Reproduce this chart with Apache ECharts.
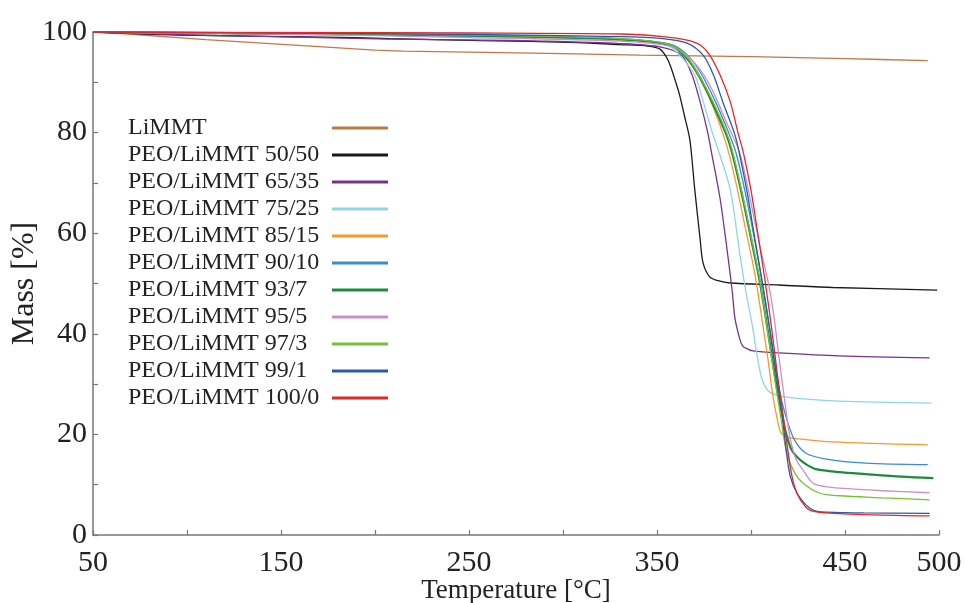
<!DOCTYPE html>
<html>
<head>
<meta charset="utf-8">
<script src="https://cdn.jsdelivr.net/npm/echarts@6/dist/echarts.min.js"></script>
<style>
html,body{margin:0;padding:0;background:#fff;}
#c{width:965px;height:603px;}
</style>
</head>
<body>
<div id="c"></div>
<script>
// Tick positions / labels
const xTickLabels = [50, 150, 250, 350, 450, 500];
const yTickLabels = [0, 20, 40, 60, 80, 100];

// Series names
const seriesNames = ['LiMMT', 'PEO/LiMMT 50/50', 'PEO/LiMMT 65/35', 'PEO/LiMMT 75/25',
  'PEO/LiMMT 85/15', 'PEO/LiMMT 90/10', 'PEO/LiMMT 93/7', 'PEO/LiMMT 95/5',
  'PEO/LiMMT 97/3', 'PEO/LiMMT 99/1', 'PEO/LiMMT 100/0'];

// Data: [temperature °C, mass %]
const limmt = [[50,100],[80,99.3],[110,98.5],[140,97.8],[170,97.1],[200,96.4],[215,96.2],[250,96.0],[300,95.7],[341,95.4],[400,95.1],[450,94.7],[494,94.3]];
const peo5050 = [[50,100],[95,99.4],[172,99.0],[208,98.7],[256,98.3],[308,97.9],[330,97.5],[345,97.2],[351.6,96.6],[355,95],[357,93.4],[360,90],[362,87.5],[364.5,83.5],[367.5,78.5],[370,69],[373,58.6],[374.5,54.1],[378,51.3],[382,50.6],[389,50.1],[415,49.7],[443.6,49.2],[499,48.7]];
const peo6535 = [[50,100],[116,99.3],[145,99.1],[208,98.6],[257,98.4],[289,98.2],[330,97.7],[352,97.0],[363,95.4],[368.6,91.5],[373,86],[377,80],[379,76],[383.5,67],[387,57.5],[390,48.5],[391.5,43],[394,39],[395.5,37.6],[398,37],[401,36.6],[415,36.2],[447,35.6],[495,35.2]];
const peo7525 = [[50,100],[150,99.5],[250,99.2],[330,98.6],[355,97.4],[362,95.4],[370,91.5],[374,86.9],[379,80.5],[383.5,75.5],[389,68.6],[394,56],[397,49],[399.5,44],[401,41],[403,36.2],[406,30.8],[410,28.4],[419,27.4],[447,26.6],[496,26.2]];
const peo8515 = [[50,100],[150,99.6],[250,99.1],[330,98.4],[357,97.3],[366,94.5],[373,90.5],[380,85],[387,77.5],[392,70],[397,61],[402,52],[406.4,41.5],[409,35],[411.7,27.5],[414,23],[416,20.3],[420,19.4],[425.5,19.1],[443,18.5],[494,17.9]];
const peo9010 = [[50,100],[150,99.6],[250,99.2],[330,98.5],[357,97.6],[366,95.5],[373,92],[380,87],[387,81],[392,76],[397,68],[402,58.5],[406,50],[410,41],[415,29],[418.6,23.5],[423,19],[429,16.3],[440,15.1],[461,14.3],[494,14.0]];
const peo937 = [[50,100],[150,99.7],[250,99.3],[330,98.6],[357,97.4],[366,94.8],[373,90.9],[380,85.5],[387,79.5],[390,75.9],[395,68],[400,59],[404.8,50.1],[409,40.5],[413,31],[416,25],[418.6,20.3],[421.5,17],[425.6,15.1],[430,13.9],[434.6,13.1],[447,12.5],[461,12.1],[480,11.6],[497,11.3]];
const peo955 = [[50,100],[150,99.6],[250,98.9],[330,98.2],[357,97.2],[366,95.3],[373,92.5],[380,88],[387,82],[394,76],[400,66],[405,57],[409,50.5],[412,44],[415,35],[418,26.5],[420.7,19.5],[424,15],[427.7,12.9],[433,10.3],[440,9.6],[447,9.3],[470,8.8],[495,8.4]];
const peo973 = [[50,100],[150,99.8],[250,99.4],[330,98.7],[357,97.5],[366,95],[373,91],[380,86],[387,80],[390,76.5],[395,68.5],[400,59.5],[404.8,50.5],[409,40],[413,30],[416,23],[419,16.3],[423,12.5],[427.7,10.3],[436.7,8.3],[447,7.8],[470,7.4],[495,7.0]];
const peo991 = [[50,100],[150,99.8],[250,99.5],[330,99.1],[353,98.7],[366,97.8],[374.5,95.4],[380,91.5],[385,86.1],[391.5,79.5],[394,75.5],[398,68],[402,59],[406,50.3],[409.5,42],[413,33],[416.5,24],[419,16],[421,11.5],[424.5,8.3],[431,5.4],[437,4.6],[460,4.4],[495,4.3]];
const peo1000 = [[50,100],[150,99.9],[250,99.8],[330,99.6],[353,99.1],[366,98.4],[373,97.4],[378,95.4],[383.5,91.5],[389,86.1],[393,80.1],[396,75.9],[400,68.5],[404,59],[407.5,50.5],[411,41],[414,32],[417,24],[420.7,14],[423,9.8],[426,7.2],[431,5.0],[440,4.4],[465,4.0],[495,3.8]];

const seriesData = [limmt, peo5050, peo6535, peo7525, peo8515, peo9010, peo937, peo955, peo973, peo991, peo1000];
const colors = ['#c0784a', '#1a1a1a', '#74358c', '#8fd4e8', '#f29a2e', '#3a8ad4', '#1e8a3e', '#c692c6', '#78c03a', '#2a5aaa', '#e02828'];
const widths = [1.3, 1.3, 1.3, 1.3, 1.3, 1.3, 2.2, 1.3, 1.3, 1.3, 1.3];

const FONT = '"Liberation Serif", "Times New Roman", serif';

const chart = echarts.init(document.getElementById('c'), null, {renderer: 'canvas'});
chart.setOption({
  animation: false,
  backgroundColor: '#ffffff',
  grid: {left: 93, right: 26, top: 32, bottom: 68, containLabel: false, outerBoundsMode: 'none'},
  legend: {
    orient: 'vertical',
    left: 123,
    top: 111,
    align: 'right',
    icon: 'rect',
    itemWidth: 56,
    itemHeight: 3,
    itemGap: 3,
    selectedMode: false,
    data: seriesNames,
    formatter: function (n) { return '{n|' + n + '}'; },
    textStyle: {
      color: '#222',
      fontFamily: FONT,
      fontSize: 24,
      rich: {n: {width: 199, align: 'left', fontFamily: FONT, fontSize: 24, color: '#222'}}
    }
  },
  xAxis: {
    type: 'value',
    min: 50, max: 500, interval: 50,
    name: 'Temperature [°C]',
    nameLocation: 'middle',
    nameGap: 42,
    nameMoveOverlap: false,
    nameTextStyle: {fontFamily: FONT, fontSize: 27, color: '#222'},
    axisLine: {show: true, lineStyle: {color: '#777', width: 1.5}},
    axisTick: {show: true, inside: true, length: 5, lineStyle: {color: '#777', width: 1.2}},
    axisLabel: {
      margin: 13,
      fontFamily: FONT, fontSize: 30, color: '#222',
      showMaxLabel: true,
      formatter: function (v) { return xTickLabels.indexOf(v) >= 0 ? String(v) : ''; }
    },
    splitLine: {show: false}
  },
  yAxis: {
    type: 'value',
    min: 0, max: 100, interval: 10,
    name: 'Mass [%]',
    nameLocation: 'middle',
    nameGap: 52,
    nameMoveOverlap: false,
    nameTextStyle: {fontFamily: FONT, fontSize: 32, color: '#222'},
    axisLine: {show: true, lineStyle: {color: '#777', width: 1.5}},
    axisTick: {show: true, inside: true, length: 5, lineStyle: {color: '#777', width: 1.2}},
    axisLabel: {
      margin: 6,
      fontFamily: FONT, fontSize: 30, color: '#222',
      formatter: function (v) { return yTickLabels.indexOf(v) >= 0 ? String(v) : ''; }
    },
    splitLine: {show: false}
  },
  series: seriesNames.map(function (name, i) {
    return {
      name: name,
      type: 'line',
      data: seriesData[i],
      showSymbol: false,
      symbol: 'none',
      smooth: 0.3,
      color: colors[i],
      lineStyle: {color: colors[i], width: widths[i]},
      z: 2
    };
  })
});
</script>
</body>
</html>
